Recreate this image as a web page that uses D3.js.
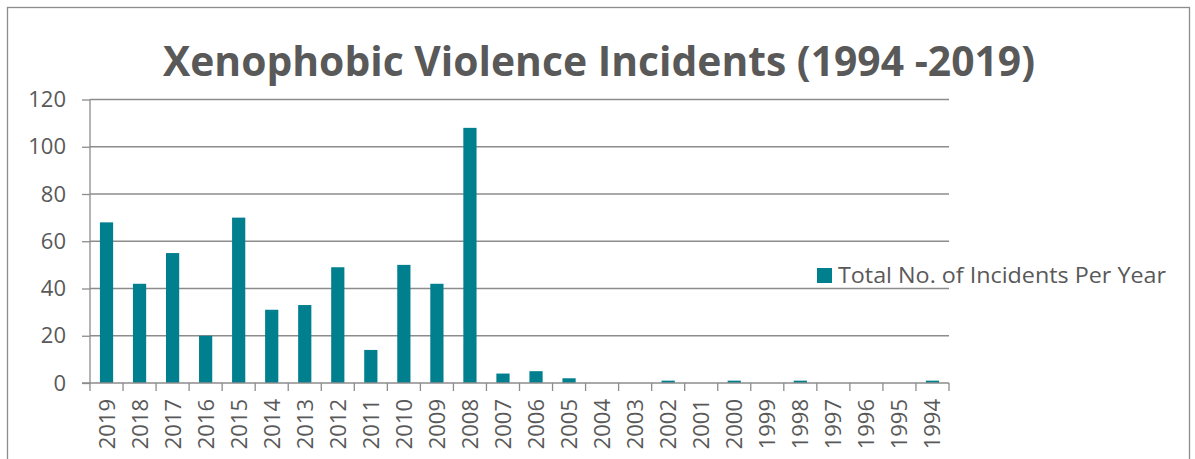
<!DOCTYPE html>
<html>
<head>
<meta charset="utf-8">
<script src="https://cdn.jsdelivr.net/npm/d3@7"></script>
<style>
  body { margin: 0; background: #fff; }
  svg { display: block; font-family: "Open Sans", "Liberation Sans", sans-serif; }
</style>
</head>
<body>
<svg id="chart" width="1195" height="459"></svg>
<script>
// data
var years = ['2019','2018','2017','2016','2015','2014','2013','2012','2011','2010','2009','2008','2007',
             '2006','2005','2004','2003','2002','2001','2000','1999','1998','1997','1996','1995','1994'];
var incidents = [68, 42, 55, 20, 70, 31, 33, 49, 14, 50, 42, 108, 4,
                 5, 2, 0, 0, 1, 0, 1, 0, 1, 0, 0, 0, 1];
var yTicks = [0, 20, 40, 60, 80, 100, 120];
var seriesName = 'Total No. of Incidents Per Year';
var chartTitle = 'Xenophobic Violence Incidents (1994 -2019)';

var svg = d3.select('#chart');
var textColor = '#595959';
var gridColor = '#8c8c8c';
var barColor = '#00808f';

// plot box (note: "top" is reserved on window, so use plot* names)
var plotLeft = 90, plotRight = 949, plotTop = 99.5, plotBottom = 383;

// outer chart frame
svg.append('rect')
  .attr('x', 7.5).attr('y', 7.5)
  .attr('width', 1182).attr('height', 470)
  .attr('fill', 'none')
  .attr('stroke', '#8c8c8c')
  .attr('stroke-width', 1.3);

svg.append('text')
  .attr('x', 599).attr('y', 76)
  .attr('text-anchor', 'middle')
  .attr('font-size', 42)
  .attr('font-weight', 'bold')
  .attr('fill', textColor)
  .attr('textLength', 872)
  .attr('lengthAdjust', 'spacingAndGlyphs')
  .text(chartTitle);

var x = d3.scaleBand()
  .domain(years)
  .range([plotLeft, plotRight])
  .paddingInner(0.6)
  .paddingOuter(0.3);

var y = d3.scaleLinear()
  .domain([0, 120])
  .range([plotBottom, plotTop]);

// gridlines
svg.append('g')
  .selectAll('line')
  .data(yTicks.filter(function(d) { return d > 0; }))
  .join('line')
  .attr('x1', plotLeft).attr('x2', plotRight)
  .attr('y1', function(d) { return y(d); })
  .attr('y2', function(d) { return y(d); })
  .attr('stroke', gridColor)
  .attr('stroke-width', 1.3);

// bars
svg.append('g')
  .selectAll('rect')
  .data(incidents)
  .join('rect')
  .attr('x', function(d, i) { return x(years[i]); })
  .attr('y', function(d) { return y(d); })
  .attr('width', x.bandwidth())
  .attr('height', function(d) { return plotBottom - y(d); })
  .attr('fill', barColor);

// y axis
var yAxis = svg.append('g')
  .attr('transform', 'translate(' + plotLeft + ',0)')
  .call(d3.axisLeft(y).tickValues(yTicks).tickSize(8).tickPadding(16));
yAxis.select('.domain').attr('stroke', gridColor).attr('stroke-width', 1.3)
  .attr('d', 'M0,' + plotTop + 'V' + plotBottom);
yAxis.selectAll('.tick line').attr('stroke', gridColor).attr('stroke-width', 1.3);
yAxis.selectAll('.tick text')
  .attr('fill', textColor)
  .attr('font-size', 22)
  .attr('font-family', '"Open Sans", sans-serif');

// x axis: ticks at category boundaries
var step = (plotRight - plotLeft) / years.length;
var xAxis = svg.append('g')
  .attr('transform', 'translate(0,' + plotBottom + ')');
xAxis.append('line')
  .attr('x1', plotLeft - 8).attr('x2', plotRight)
  .attr('stroke', gridColor).attr('stroke-width', 1.3);
xAxis.selectAll('line.tk')
  .data(d3.range(years.length + 1))
  .join('line')
  .attr('class', 'tk')
  .attr('x1', function(i) { return plotLeft + i * step; })
  .attr('x2', function(i) { return plotLeft + i * step; })
  .attr('y1', 0).attr('y2', 8)
  .attr('stroke', gridColor).attr('stroke-width', 1.3);
xAxis.selectAll('text.lbl')
  .data(years)
  .join('text')
  .attr('class', 'lbl')
  .attr('transform', function(d) {
    return 'translate(' + (x(d) + x.bandwidth() / 2 + 8) + ',16) rotate(-90)';
  })
  .attr('text-anchor', 'end')
  .attr('font-size', 22)
  .attr('fill', textColor)
  .text(function(d) { return d; });

// legend
var legend = svg.append('g').attr('transform', 'translate(817,268)');
legend.append('rect')
  .attr('width', 15).attr('height', 15)
  .attr('fill', barColor);
legend.append('text')
  .attr('x', 21).attr('y', 15)
  .attr('font-size', 21)
  .attr('fill', textColor)
  .attr('textLength', 328)
  .attr('lengthAdjust', 'spacingAndGlyphs')
  .text(seriesName);
</script>
</body>
</html>
